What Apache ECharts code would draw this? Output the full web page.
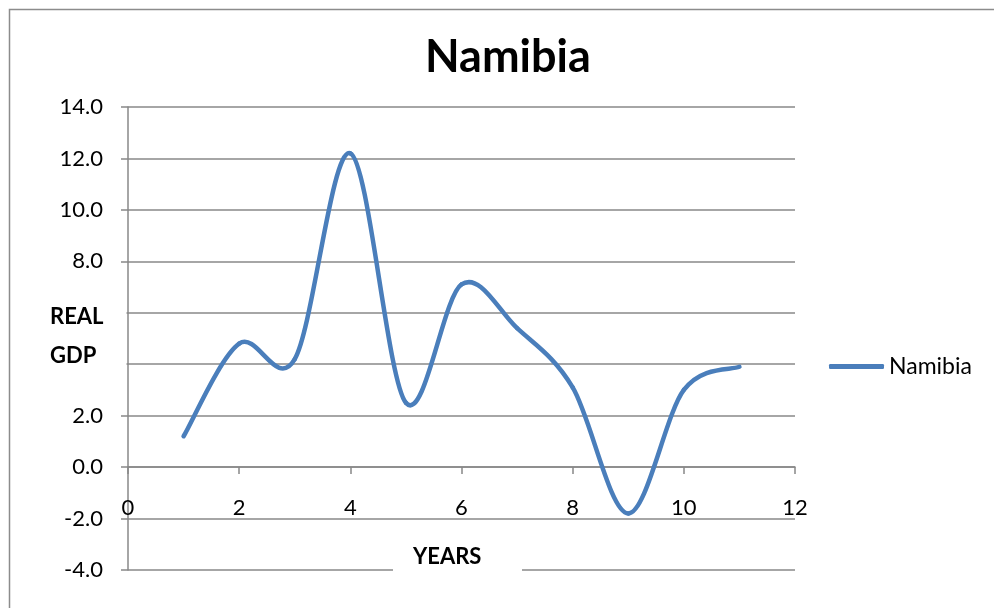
<!DOCTYPE html>
<html>
<head>
<meta charset="utf-8">
<script src="https://cdn.jsdelivr.net/npm/echarts@6/dist/echarts.min.js"></script>
<style>
  html, body { margin: 0; padding: 0; background: #fff; }
  #chart { width: 994px; height: 608px; }
</style>
</head>
<body>
<div id="chart"></div>
<script>
// data
const years = [1, 2, 3, 4, 5, 6, 7, 8, 9, 10, 11];
const gdp = [1.2, 4.8, 4.2, 12.2, 2.5, 7.1, 5.4, 3.1, -1.8, 3.0, 3.9];
const seriesName = 'Namibia';
const chartTitle = 'Namibia';
const yTitle = ['REAL', 'GDP'];
const xTitle = 'YEARS';

const font = 'Lato, "Open Sans", sans-serif';
const gray = '#888888';
const blue = '#4a7ebb';

let chart = echarts.init(document.getElementById('chart'));

// Excel style smoothed line: one cubic segment per point pair (Catmull-Rom)
function renderSegment(params, api) {
  let i = params.dataIndex;
  if (i >= years.length - 1) return null;
  let pt = j => {
    j = Math.max(0, Math.min(years.length - 1, j));
    return api.coord([years[j], gdp[j]]);
  };
  let p0 = pt(i - 1), p1 = pt(i), p2 = pt(i + 1), p3 = pt(i + 2);
  return {
    type: 'bezierCurve',
    shape: {
      x1: p1[0], y1: p1[1],
      x2: p2[0], y2: p2[1],
      cpx1: p1[0] + (p2[0] - p0[0]) / 6, cpy1: p1[1] + (p2[1] - p0[1]) / 6,
      cpx2: p2[0] - (p3[0] - p1[0]) / 6, cpy2: p2[1] - (p3[1] - p1[1]) / 6
    },
    style: { fill: null, stroke: blue, lineWidth: 4.5, lineCap: 'round' }
  };
}

let option = {
  animation: false,
  title: {
    text: chartTitle,
    left: 420,
    top: 30,
    textStyle: { fontFamily: font, fontSize: 45, fontWeight: 'bold', color: '#000' }
  },
  legend: {
    left: 824,
    top: 350,
    itemWidth: 55,
    itemHeight: 5,
    icon: 'roundRect',
    itemStyle: { color: blue },
    textStyle: { fontFamily: font, fontSize: 23, color: '#000' },
    data: [seriesName]
  },
  grid: {
    left: 128,
    right: 199,
    top: 107,
    bottom: 38,
    outerBoundsMode: 'none',
    containLabel: false
  },
  xAxis: [
    {
      type: 'value',
      min: 0,
      max: 12,
      interval: 2,
      axisLine: { show: true, onZero: true, lineStyle: { color: gray, width: 1.5 } },
      axisTick: { show: true, inside: false, length: 7, lineStyle: { color: gray, width: 1.5 } },
      splitLine: { show: false },
      axisLabel: { show: false }
    },
    {
      // labels only, they sit just above the -2.0 line in the original
      type: 'value',
      position: 'bottom',
      offset: -73,
      min: 0,
      max: 12,
      interval: 2,
      axisLine: { show: false, onZero: false },
      axisTick: { show: false },
      splitLine: { show: false },
      axisLabel: {
        margin: 0,
        fontFamily: font,
        fontSize: 22,
        color: '#000',
        showMinLabel: true,
        showMaxLabel: true
      }
    }
  ],
  yAxis: {
    type: 'value',
    min: -4,
    max: 14,
    interval: 2,
    axisLine: { show: true, lineStyle: { color: gray, width: 1.5 } },
    axisTick: { show: true, length: 7, lineStyle: { color: gray, width: 1.5 } },
    splitLine: { show: true, lineStyle: { color: gray, width: 1.5 } },
    axisLabel: {
      margin: 25,
      fontFamily: font,
      fontSize: 22,
      color: '#000',
      formatter: function (v) {
        // 4.0 and 6.0 are covered by the axis title in the original
        if (v === 4 || v === 6) return '';
        return v.toFixed(1);
      }
    }
  },
  graphic: [
    {
      type: 'rect',
      z: 100,
      shape: { x: 9.5, y: 9.5, width: 1000, height: 700 },
      style: { fill: 'none', stroke: '#8c8c8c', lineWidth: 1.5 }
    },
    {
      type: 'rect',
      z: 100,
      shape: { x: 40, y: 300, width: 86.5, height: 75 },
      style: { fill: '#fff' }
    },
    {
      type: 'text',
      z: 101,
      left: 50,
      top: 306,
      style: { text: yTitle[0], fontFamily: font, fontSize: 22, fontWeight: 'bold', fill: '#000' }
    },
    {
      type: 'text',
      z: 101,
      left: 50,
      top: 345,
      style: { text: yTitle[1], fontFamily: font, fontSize: 22, fontWeight: 'bold', fill: '#000' }
    },
    {
      type: 'rect',
      z: 100,
      shape: { x: 393, y: 545, width: 129, height: 40 },
      style: { fill: '#fff' }
    },
    {
      type: 'text',
      z: 101,
      left: 413,
      top: 546,
      style: { text: xTitle, fontFamily: font, fontSize: 22, fontWeight: 'bold', fill: '#000' }
    }
  ],
  series: [
    {
      name: seriesName,
      type: 'custom',
      xAxisIndex: 0,
      itemStyle: { color: blue },
      renderItem: renderSegment,
      encode: { x: 0, y: 1 },
      data: years.map((y, i) => [y, gdp[i]])
    }
  ]
};

chart.setOption(option);
</script>
</body>
</html>
